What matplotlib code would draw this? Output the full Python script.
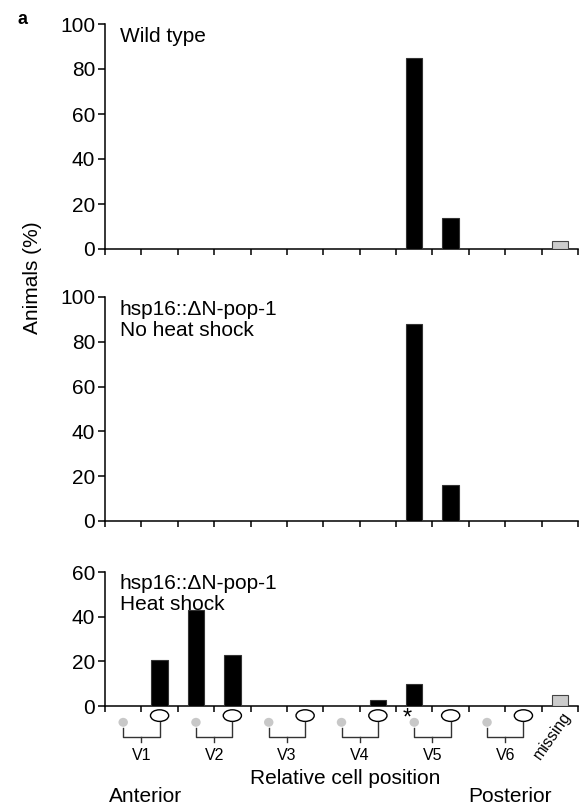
import matplotlib
matplotlib.use("Agg")
import matplotlib.pyplot as plt
from matplotlib.patches import Ellipse
import numpy as np

plt.rcParams["font.family"] = ["Liberation Sans", "DejaVu Sans"]

# 13 positions along the body: V1..V6 (anterior daughter, posterior daughter) + missing
positions = ["V1.a", "V1.p", "V2.a", "V2.p", "V3.a", "V3.p",
             "V4.a", "V4.p", "V5.a", "V5.p", "V6.a", "V6.p", "missing"]
wild_type = [0, 0, 0, 0, 0, 0, 0, 0, 85, 14, 0, 0, 3.5]
no_heat_shock = [0, 0, 0, 0, 0, 0, 0, 0, 88, 16, 0, 0, 0]
heat_shock = [0, 20.5, 43, 23, 0, 0, 0, 2.5, 10, 0, 0, 0, 5]

panel_titles = ["Wild type", "hsp16::ΔN-pop-1\nNo heat shock", "hsp16::ΔN-pop-1\nHeat shock"]
panel_data = [wild_type, no_heat_shock, heat_shock]
panel_ymax = [100, 100, 60]
panel_yticks = [[0, 20, 40, 60, 80, 100], [0, 20, 40, 60, 80, 100], [0, 20, 40, 60]]
cell_names = ["V1", "V2", "V3", "V4", "V5", "V6"]

FS = 15
W, H = 580, 806
fig = plt.figure(figsize=(W / 100, H / 100), dpi=100)

# axes boxes in pixels (left, top, right, bottom)
boxes = [(105, 24, 578, 249), (105, 297, 578, 521), (105, 572, 578, 706)]
axes = []
for (l, t, r, b) in boxes:
    ax = fig.add_axes([l / W, 1 - b / H, (r - l) / W, (b - t) / H])
    axes.append(ax)

x = np.arange(len(positions)) + 0.5
for ax, vals, title, ymax, yt in zip(axes, panel_data, panel_titles, panel_ymax, panel_yticks):
    colors = ["#cccccc" if p == "missing" else "black" for p in positions]
    edges = ["#444444" if p == "missing" else "#333333" for p in positions]
    ax.bar(x, vals, width=0.45, color=colors, edgecolor=edges, linewidth=0.8, zorder=3)
    ax.set_xlim(0, len(positions))
    ax.set_ylim(0, ymax)
    ax.set_xticks(np.arange(len(positions) + 1))
    ax.set_xticklabels([])
    ax.set_yticks(yt)
    ax.tick_params(axis="y", labelsize=FS, length=5, width=1.1, pad=2)
    ax.tick_params(axis="x", length=4.5, width=1.1)
    for s in ["top", "right"]:
        ax.spines[s].set_visible(False)
    for s in ["left", "bottom"]:
        ax.spines[s].set_linewidth(1.1)
    ax.text(0.4, ymax * 0.985, title, fontsize=FS, va="top", ha="left",
            linespacing=1.1)

# cell diagram under the bottom panel
ax = axes[2]
for k, name in enumerate(cell_names):
    xa = 2 * k + 0.5
    xp = 2 * k + 1.5
    ax.add_patch(Ellipse((xa, -7.3), 0.26, 4.0, facecolor="#c8c8c8",
                         edgecolor="none", clip_on=False))
    ax.add_patch(Ellipse((xp, -4.3), 0.5, 5.2, facecolor="white",
                         edgecolor="black", linewidth=1.0, clip_on=False))
    ax.plot([xa, xa, xp, xp], [-10.0, -13.9, -13.9, -7.0], color="#333333",
            lw=1.0, clip_on=False)
    ax.plot([2 * k + 1, 2 * k + 1], [-13.9, -16.0], color="#333333",
            lw=1.0, clip_on=False)
    ax.text(2 * k + 1, -22, name, ha="center", va="center", fontsize=11.5)

ax.text(8.3, -5.5, "*", ha="center", va="center", fontsize=17)
ax.text(12.3, -13, "missing", rotation=55, ha="center", va="center", fontsize=11.5,
        rotation_mode="anchor")

fig.text(345 / W, 1 - 778 / H, "Relative cell position", ha="center", va="center",
         fontsize=FS)
fig.text(146 / W, 1 - 796 / H, "Anterior", ha="center", va="center", fontsize=FS)
fig.text(510 / W, 1 - 796 / H, "Posterior", ha="center", va="center", fontsize=FS)
fig.text(32 / W, 1 - 278 / H, "Animals (%)", rotation=90, ha="center", va="center",
         fontsize=FS)
fig.text(22 / W, 1 - 20 / H, "a", fontweight="bold", ha="center", va="center",
         fontsize=13)

fig.savefig("out.png", dpi=100)
